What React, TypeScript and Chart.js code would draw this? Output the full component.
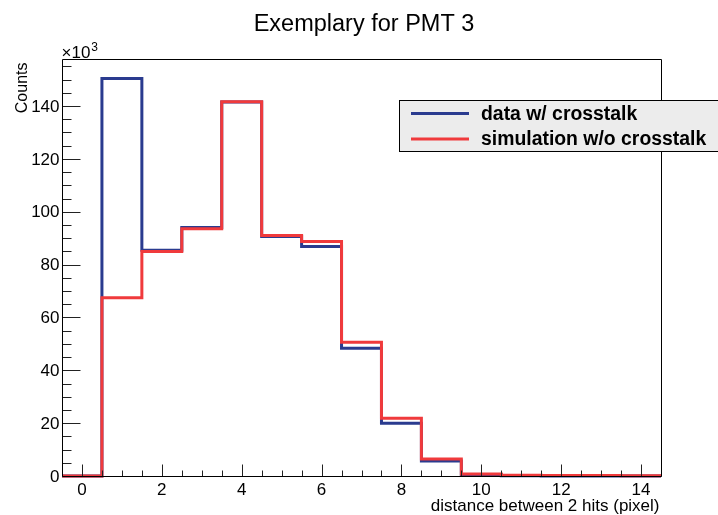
import React, { useEffect, useRef } from "react";
import { Chart, registerables } from "chart.js";

Chart.register(...registerables);

// ---- data (counts in units of 10^3) ----
const binCenters = [0, 1, 2, 3, 4, 5, 6, 7, 8, 9, 10, 11, 12, 13, 14];
const dataCounts = [0, 150.4, 85.4, 94.0, 141.5, 90.6, 86.8, 48.3, 20.0, 5.7, 0.5, 0.05, 0.0, 0.0, 0.0];
const simCounts = [0, 67.5, 85.0, 93.6, 141.6, 91.0, 88.7, 50.6, 21.9, 6.4, 0.75, 0.25, 0.2, 0.15, 0.1];
const yTickLabels = [0, 20, 40, 60, 80, 100, 120, 140];
const xTickLabels = [0, 2, 4, 6, 8, 10, 12, 14];
const titleText = "Exemplary for PMT 3";
const xTitle = "distance between 2 hits (pixel)";
const yTitle = "Counts";
const legendLabels = ["data w/ crosstalk", "simulation w/o crosstalk"];

const BLUE = "#2a3b8f";
const RED = "#f03a3c";
const FONT = "'Liberation Sans', Arial, Helvetica, sans-serif";

function histPoints(centers: number[], counts: number[]) {
  const pts: { x: number; y: number }[] = [];
  centers.forEach((c, i) => {
    pts.push({ x: c - 0.5, y: counts[i] });
    pts.push({ x: c + 0.5, y: counts[i] });
  });
  return pts;
}

const rootStyle = {
  id: "rootStyle",
  afterDraw(chart: any) {
    const { ctx, chartArea: a, scales } = chart;
    const xs = scales.x;
    const ys = scales.y;
    const L = Math.round(a.left) + 0.5;
    const R = Math.round(a.right) + 0.5;
    const T = Math.round(a.top) + 0.5;
    const B = Math.round(a.bottom) + 0.5;
    ctx.save();

    // ticks
    ctx.strokeStyle = "#222";
    ctx.lineWidth = 1;
    ctx.beginPath();
    for (let v = 0; v <= ys.max + 1e-9; v += 5) {
      const y = Math.round(ys.getPixelForValue(v)) + 0.5;
      const len = v % 20 === 0 ? 18 : 9;
      ctx.moveTo(L, y);
      ctx.lineTo(L + len, y);
    }
    for (let v = -0.5; v <= 14.5 + 1e-9; v += 0.5) {
      const x = Math.round(xs.getPixelForValue(v)) + 0.5;
      const isMajor = Math.abs(v - Math.round(v)) < 1e-9 && Math.round(v) % 2 === 0;
      const len = isMajor ? 12 : 6;
      ctx.moveTo(x, B);
      ctx.lineTo(x, B - len);
    }
    ctx.stroke();

    // frame
    ctx.strokeStyle = "#000";
    ctx.beginPath();
    ctx.moveTo(L, T);
    ctx.lineTo(R, T);
    ctx.lineTo(R, B);
    ctx.lineTo(L, B);
    ctx.closePath();
    ctx.stroke();

    ctx.fillStyle = "#000";
    // y tick labels
    ctx.font = `17px ${FONT}`;
    ctx.textAlign = "right";
    ctx.textBaseline = "middle";
    yTickLabels.forEach((v) => {
      ctx.fillText(String(v), L - 3, ys.getPixelForValue(v) + 1);
    });
    // x tick labels
    ctx.textAlign = "center";
    ctx.textBaseline = "top";
    xTickLabels.forEach((v) => {
      ctx.fillText(String(v), xs.getPixelForValue(v), B + 5);
    });

    // exponent
    ctx.textAlign = "left";
    ctx.textBaseline = "alphabetic";
    ctx.font = `17px ${FONT}`;
    ctx.fillText("\u00d710", L - 1, T - 2);
    const w = ctx.measureText("\u00d710").width;
    ctx.font = `12px ${FONT}`;
    ctx.fillText("3", L + w, T - 9);

    // x title
    ctx.font = `17px ${FONT}`;
    ctx.textAlign = "right";
    ctx.textBaseline = "alphabetic";
    ctx.fillText(xTitle, R - 2, 511);

    // y title
    ctx.save();
    ctx.translate(27, T + 3);
    ctx.rotate(-Math.PI / 2);
    ctx.textAlign = "right";
    ctx.font = `16px ${FONT}`;
    ctx.fillText(yTitle, 0, 0);
    ctx.restore();

    // title
    ctx.font = `23.5px ${FONT}`;
    ctx.textAlign = "center";
    ctx.fillText(titleText, 364, 31);

    // legend
    const lx = 399.5, ly = 100.5, lw = 330, lh = 51;
    ctx.fillStyle = "#ececec";
    ctx.fillRect(lx, ly, lw, lh);
    ctx.strokeStyle = "#000";
    ctx.lineWidth = 1;
    ctx.strokeRect(lx, ly, lw, lh);
    const rows = [
      { label: legendLabels[0], color: BLUE, y: 113.5 },
      { label: legendLabels[1], color: RED, y: 139 },
    ];
    ctx.font = `bold 19.4px ${FONT}`;
    ctx.textAlign = "left";
    ctx.textBaseline = "middle";
    rows.forEach((r) => {
      ctx.strokeStyle = r.color;
      ctx.lineWidth = 3;
      ctx.beginPath();
      ctx.moveTo(411, r.y);
      ctx.lineTo(469, r.y);
      ctx.stroke();
      ctx.fillStyle = "#000";
      ctx.fillText(r.label, 481, r.y + 1);
    });

    ctx.restore();
  },
};

export default function App() {
  const ref = useRef<HTMLCanvasElement | null>(null);
  useEffect(() => {
    if (!ref.current) return;
    const chart = new Chart(ref.current, {
      type: "line",
      data: {
        datasets: [
          {
            label: legendLabels[1],
            data: histPoints(binCenters, simCounts),
            borderColor: RED,
            borderWidth: 3,
            pointRadius: 0,
            fill: false,
            tension: 0,
            borderJoinStyle: "miter",
            borderCapStyle: "butt",
            clip: 4,
            order: 0,
          },
          {
            label: legendLabels[0],
            data: histPoints(binCenters, dataCounts),
            borderColor: BLUE,
            borderWidth: 3,
            pointRadius: 0,
            fill: false,
            tension: 0,
            borderJoinStyle: "miter",
            borderCapStyle: "butt",
            clip: 4,
            order: 1,
          },
        ],
      } as any,
      options: {
        animation: false,
        responsive: false,
        maintainAspectRatio: false,
        layout: { padding: { left: 62, top: 59, right: 57, bottom: 39 } },
        scales: {
          x: { type: "linear", min: -0.5, max: 14.5, display: false },
          y: { type: "linear", min: 0, max: 157.8, display: false },
        },
        plugins: {
          legend: { display: false },
          tooltip: { enabled: false },
          title: { display: false },
        },
      } as any,
      plugins: [rootStyle],
    });
    return () => chart.destroy();
  }, []);
  return (
    <div style={{ position: "absolute", left: 0, top: 0, width: 718, height: 515, background: "#fff" }}>
      <canvas ref={ref} width={718} height={515} style={{ display: "block" }} />
    </div>
  );
}
